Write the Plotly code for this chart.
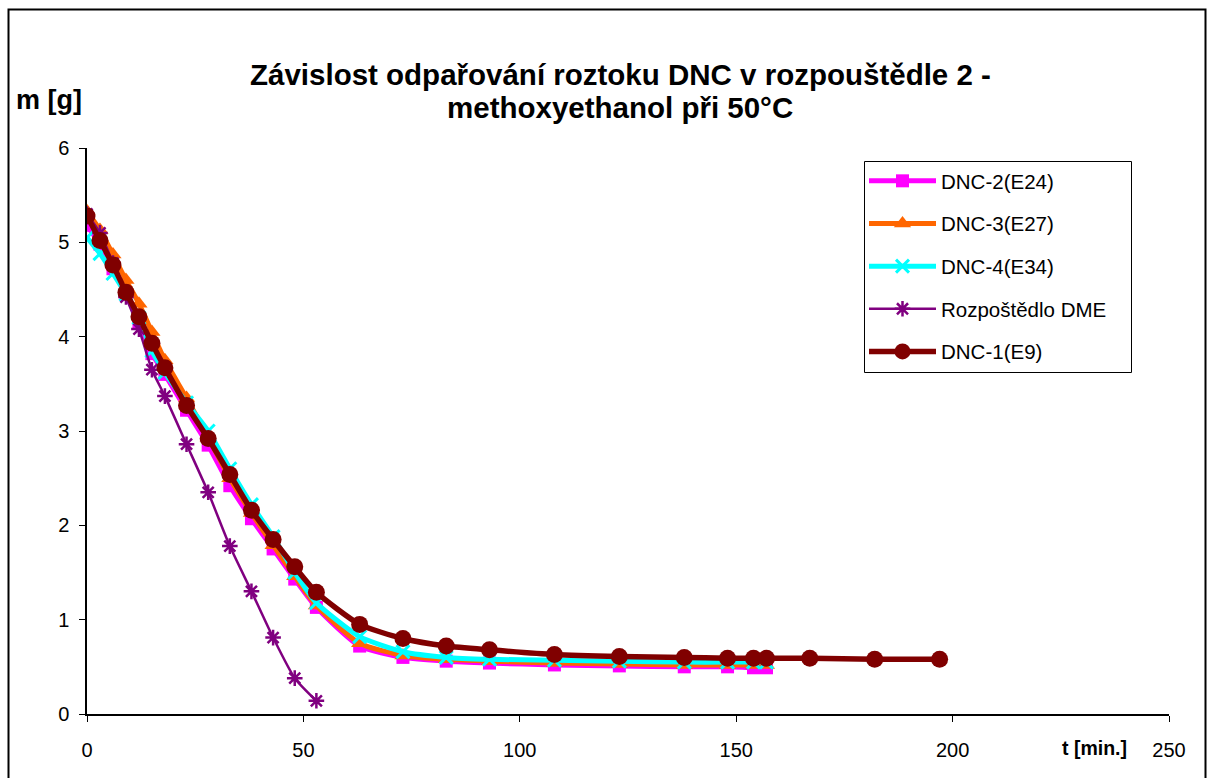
import plotly.graph_objects as go

# ---- data ----
t_dnc = [0, 3, 6, 9, 12, 15, 18, 23, 28, 33, 38, 43, 48, 53, 63, 73, 83, 93, 108, 123, 138, 148, 154, 157]
m_dnc2 = [5.18, 4.98, 4.72, 4.45, 4.15, 3.82, 3.60, 3.22, 2.85, 2.42, 2.07, 1.75, 1.43, 1.13, 0.72, 0.60, 0.56, 0.54, 0.52, 0.51, 0.50, 0.50, 0.49, 0.49]
m_dnc3 = [5.33, 5.13, 4.87, 4.60, 4.35, 4.05, 3.75, 3.35, 2.93, 2.50, 2.13, 1.79, 1.46, 1.15, 0.75, 0.62, 0.58, 0.56, 0.54, 0.53, 0.52, 0.52, 0.52, 0.52]
m_dnc4 = [5.05, 4.88, 4.67, 4.45, 4.20, 3.85, 3.62, 3.30, 3.00, 2.60, 2.22, 1.88, 1.50, 1.18, 0.82, 0.66, 0.60, 0.58, 0.57, 0.56, 0.55, 0.55, 0.55, 0.55]

t_dme = [0, 3, 6, 9, 12, 15, 18, 23, 28, 33, 38, 43, 48, 53]
m_dme = [5.30, 5.10, 4.78, 4.42, 4.08, 3.65, 3.37, 2.86, 2.35, 1.78, 1.30, 0.81, 0.38, 0.14]

t_dnc1 = [0, 3, 6, 9, 12, 15, 18, 23, 28, 33, 38, 43, 48, 53, 63, 73, 83, 93, 108, 123, 138, 148, 154, 157, 167, 182, 197]
m_dnc1 = [5.28, 5.02, 4.76, 4.47, 4.21, 3.93, 3.67, 3.27, 2.92, 2.54, 2.16, 1.85, 1.56, 1.29, 0.95, 0.80, 0.72, 0.68, 0.63, 0.61, 0.60, 0.59, 0.59, 0.59, 0.59, 0.58, 0.58]

x_ticks = [0, 50, 100, 150, 200, 250]
y_ticks = [0, 1, 2, 3, 4, 5, 6]

title_lines = ["Závislost odpařování roztoku DNC v rozpouštědle 2 -", "methoxyethanol při 50°C"]
names = ["DNC-2(E24)", "DNC-3(E27)", "DNC-4(E34)", "Rozpoštědlo DME", "DNC-1(E9)"]

# ---- layout geometry (pixels) ----
W, H = 1213, 778
L, R, T, B = 87, 1169, 148, 714
pw, ph = R - L, B - T

def px(x):
    return (x - L) / pw

def py(y):
    return (B - y) / ph

FONT = "Liberation Sans, Arial, sans-serif"

fig = go.Figure()
fig.add_trace(go.Scatter(x=t_dnc, y=m_dnc2, name=names[0], mode="lines+markers",
                         line=dict(color="#FF00FF", width=5, shape="spline", smoothing=0.6),
                         marker=dict(symbol="square", size=13, color="#FF00FF"),
                         legendgroup="a"))
fig.add_trace(go.Scatter(x=t_dnc, y=m_dnc3, name=names[1], mode="lines+markers",
                         line=dict(color="#FF6600", width=5, shape="spline", smoothing=0.6),
                         marker=dict(symbol="triangle-up", size=15, color="#FF6600"),
                         legendgroup="b"))
fig.add_trace(go.Scatter(x=t_dnc, y=m_dnc4, name=names[2], mode="lines+markers",
                         line=dict(color="#00FFFF", width=5, shape="spline", smoothing=0.6),
                         marker=dict(symbol="x-thin-open", size=13, color="#00FFFF",
                                     line=dict(color="#00FFFF", width=3)),
                         legendgroup="c"))
fig.add_trace(go.Scatter(x=t_dme, y=m_dme, name=names[3], mode="lines+markers",
                         line=dict(color="#800080", width=2.5, shape="spline", smoothing=0.6),
                         marker=dict(symbol="asterisk-open", size=13, color="#800080",
                                     line=dict(color="#800080", width=2.5)),
                         legendgroup="d"))
fig.add_trace(go.Scatter(x=t_dnc1, y=m_dnc1, name=names[4], mode="lines+markers",
                         line=dict(color="#800000", width=5.5, shape="spline", smoothing=0.6),
                         marker=dict(symbol="circle", size=17, color="#800000"),
                         legendgroup="e"))

fig.update_layout(
    width=W, height=H,
    margin=dict(l=L, r=W - R, t=T, b=H - B, pad=0),
    paper_bgcolor="white", plot_bgcolor="white",
    font=dict(family=FONT, size=20, color="black"),
    showlegend=True,
    legend=dict(x=px(864), y=py(161), xanchor="left", yanchor="top",
                bgcolor="rgba(0,0,0,0)", borderwidth=0,
                font=dict(family=FONT, size=20.5, color="black"),
                tracegroupgap=13, itemwidth=67),
    xaxis=dict(range=[0, 250], tickvals=x_ticks, ticktext=[str(v) for v in x_ticks],
               showgrid=False, zeroline=False, showline=True, linecolor="black", linewidth=1.5,
               ticks="outside", ticklen=6, tickcolor="black", tickwidth=1,
               ticklabelstandoff=11, tickfont=dict(size=20)),
    yaxis=dict(range=[0, 6], tickvals=y_ticks, ticktext=[str(v) for v in y_ticks],
               showgrid=False, zeroline=False, showline=True, linecolor="black", linewidth=1.5,
               ticks="outside", ticklen=6, tickcolor="black", tickwidth=1,
               ticklabelstandoff=6, tickfont=dict(size=20)),
)

# legend box
fig.add_shape(type="rect", xref="paper", yref="paper",
              x0=px(864.5), x1=px(1131.5), y0=py(372.5), y1=py(161.5),
              line=dict(color="black", width=1), fillcolor="white", layer="above")

# title (two lines)
for line_text, yc in zip(title_lines, [75, 108]):
    fig.add_annotation(text="<b>" + line_text + "</b>",
                       xref="paper", yref="paper", x=px(620), y=py(yc),
                       xanchor="center", yanchor="middle", showarrow=False,
                       font=dict(family=FONT, size=29.5, color="black"))
# axis titles
fig.add_annotation(text="<b>m [g]</b>", xref="paper", yref="paper", x=px(14), y=py(100),
                   xanchor="left", yanchor="middle", showarrow=False,
                   font=dict(family=FONT, size=27, color="black"))
fig.add_annotation(text="<b>t [min.]</b>", xref="paper", yref="paper", x=px(1060), y=py(748),
                   xanchor="left", yanchor="middle", showarrow=False,
                   font=dict(family=FONT, size=19.5, color="black"))

# outer frame
fig.add_shape(type="rect", xref="paper", yref="paper",
              x0=px(8.5), x1=px(1205.5), y0=py(800), y1=py(9.5),
              line=dict(color="black", width=2), fillcolor="rgba(0,0,0,0)", layer="below")

fig.write_html("out.html")
